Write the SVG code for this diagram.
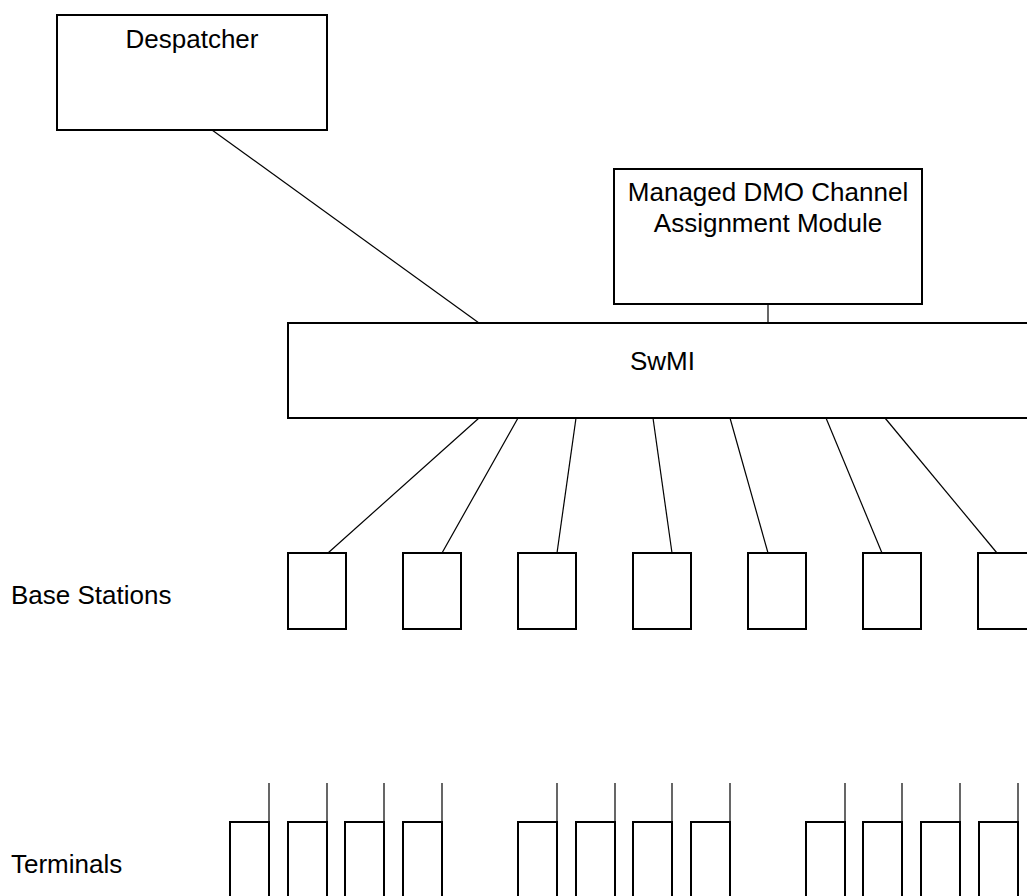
<svg xmlns="http://www.w3.org/2000/svg" width="1027" height="896" viewBox="0 0 1027 896">
  <defs>
    <style>
      .box { fill: #fff; stroke: #000; stroke-width: 2; }
      .link { stroke: #000; stroke-width: 1.2; fill: none; }
      .lbl { font-family: "Liberation Sans", Arial, sans-serif; font-size: 26px; fill: #000; }
      .mid { text-anchor: middle; }
    </style>
    <!-- base station unit -->
    <rect id="bs" class="box" x="0" y="0" width="58" height="76"/>
    <!-- terminal unit: body plus antenna -->
    <g id="term">
      <rect class="box" x="0" y="0" width="39" height="100"/>
      <line class="link" x1="39" y1="-39" x2="39" y2="0"/>
    </g>
  </defs>
  <rect width="1027" height="896" fill="#fff"/>

  <g id="connectors">
    <line class="link" x1="212" y1="130" x2="479" y2="323"/>
    <line class="link" x1="768" y1="304" x2="768" y2="323"/>
    <line class="link" x1="479" y1="418" x2="328" y2="553"/>
    <line class="link" x1="518" y1="418" x2="442" y2="553"/>
    <line class="link" x1="576" y1="418" x2="557" y2="553"/>
    <line class="link" x1="653" y1="418" x2="672" y2="553"/>
    <line class="link" x1="730" y1="418" x2="768" y2="553"/>
    <line class="link" x1="826" y1="418" x2="882" y2="553"/>
    <line class="link" x1="885" y1="418" x2="997" y2="553"/>
  </g>

  <g id="despatcher">
    <rect class="box" x="57" y="15" width="270" height="115"/>
    <text class="lbl mid" x="192" y="48">Despatcher</text>
  </g>

  <g id="dmo-module">
    <rect class="box" x="614" y="169" width="308" height="135"/>
    <text class="lbl mid" x="768" y="201">Managed DMO Channel</text>
    <text class="lbl mid" x="768" y="232">Assignment Module</text>
  </g>

  <g id="swmi">
    <rect class="box" x="288" y="323" width="760" height="95"/>
    <text class="lbl" x="630" y="370">SwMI</text>
  </g>

  <g id="base-stations">
    <text class="lbl" x="11" y="604">Base Stations</text>
    <use href="#bs" x="288" y="553"/>
    <use href="#bs" x="403" y="553"/>
    <use href="#bs" x="518" y="553"/>
    <use href="#bs" x="633" y="553"/>
    <use href="#bs" x="748" y="553"/>
    <use href="#bs" x="863" y="553"/>
    <use href="#bs" x="978" y="553"/>
  </g>

  <g id="terminals">
    <text class="lbl" x="11" y="873">Terminals</text>
    <use href="#term" x="230" y="822"/>
    <use href="#term" x="288" y="822"/>
    <use href="#term" x="345" y="822"/>
    <use href="#term" x="403" y="822"/>
    <use href="#term" x="518" y="822"/>
    <use href="#term" x="576" y="822"/>
    <use href="#term" x="633" y="822"/>
    <use href="#term" x="691" y="822"/>
    <use href="#term" x="806" y="822"/>
    <use href="#term" x="863" y="822"/>
    <use href="#term" x="921" y="822"/>
    <use href="#term" x="979" y="822"/>
  </g>
</svg>
